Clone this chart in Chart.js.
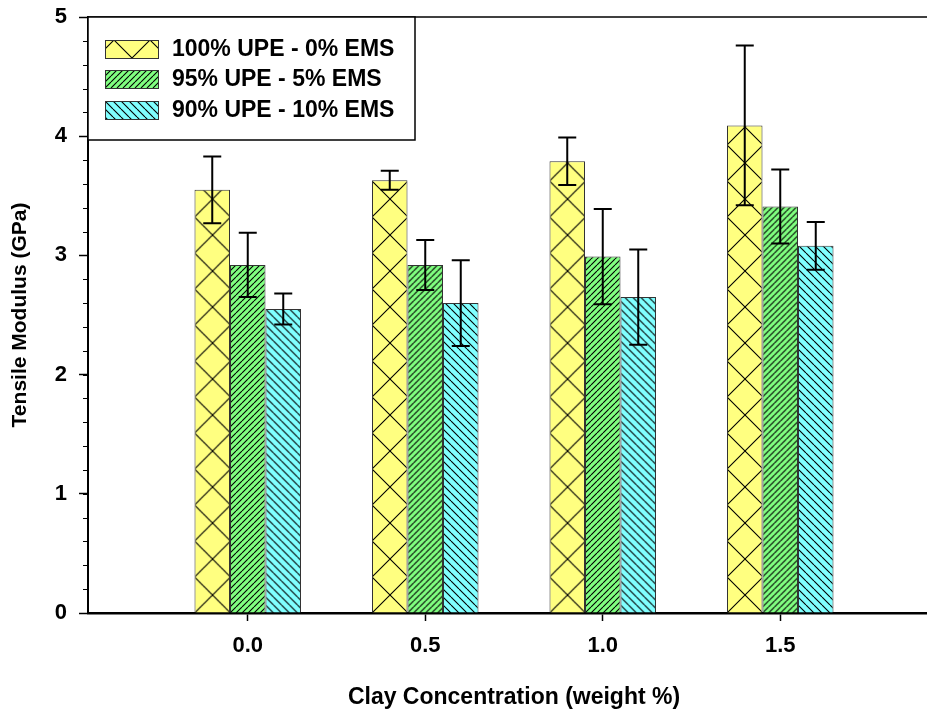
<!DOCTYPE html>
<html>
<head>
<meta charset="utf-8">
<script src="https://cdn.jsdelivr.net/npm/chart.js@4.4.0/dist/chart.umd.min.js"></script>
<style>
html, body { margin:0; padding:0; background:#fff; overflow:hidden; }
#wrap { position:relative; width:960px; height:711px; }
</style>
</head>
<body>
<div id="wrap"><canvas id="chart"></canvas></div>
<script>
// clay concentration (weight %) for each bar group
var clayConc = [0.0, 0.5, 1.0, 1.5];
var xTickValues = [0.0, 0.5, 1.0, 1.5];
var yMinorStep = 0.2;

var seriesNames = ['100% UPE - 0% EMS', '95% UPE - 5% EMS', '90% UPE - 10% EMS'];
// tensile modulus (GPa) and error (+/-)
var modUPE100 = [3.55, 3.63, 3.79, 4.09];
var modUPE95  = [2.92, 2.92, 2.99, 3.41];
var modUPE90  = [2.55, 2.60, 2.65, 3.08];
var errUPE100 = [0.28, 0.08, 0.20, 0.67];
var errUPE95  = [0.27, 0.21, 0.40, 0.31];
var errUPE90  = [0.13, 0.36, 0.40, 0.20];

var FONT = "'Liberation Sans', Arial, sans-serif";
var groupPct = 0.6;

// hatch tile: kind is 'cross', 'fwd' (/) or 'back' (\)
function makeTile(bg, kind, w, h) {
  var c = document.createElement('canvas');
  c.width = w; c.height = h;
  var g = c.getContext('2d');
  g.fillStyle = bg;
  g.fillRect(0, 0, w, h);
  g.strokeStyle = '#000';
  g.lineWidth = 1.1;
  g.beginPath();
  for (var k = -1; k <= 1; k++) {
    if (kind == 'cross' || kind == 'fwd') { g.moveTo(k * w, h); g.lineTo(k * w + w, 0); }
    if (kind == 'cross' || kind == 'back') { g.moveTo(k * w, 0); g.lineTo(k * w + w, h); }
  }
  g.stroke();
  return c;
}

var tiles = [
  makeTile('#ffff80', 'cross', 36, 36),
  makeTile('#80ff80', 'fwd', 6, 6),
  makeTile('#80ffff', 'back', 8, 8)
];

function patternAt(ctx2d, tile, tx, ty) {
  var p = ctx2d.createPattern(tile, 'repeat');
  p.setTransform(new DOMMatrix([1, 0, 0, 1, tx, ty]));
  return p;
}

// fill for a bar, lined up with the bar's left edge
function barFill(dsIndex) {
  return function(ctx) {
    var chart = ctx.chart;
    var xs = chart.scales.x;
    if (!xs || !chart.chartArea) return '#ccc';
    var step = xs.getPixelForValue(0.5) - xs.getPixelForValue(0);
    var bw = step * groupPct / 3;
    var left = xs.getPixelForValue(clayConc[ctx.dataIndex]) + (dsIndex - 1.5) * bw;
    return patternAt(chart.ctx, tiles[dsIndex], left, chart.chartArea.bottom);
  };
}

function points(vals) {
  return vals.map(function(v, i) { return { x: clayConc[i], y: v }; });
}

var errors = [errUPE100, errUPE95, errUPE90];

var decorations = {
  id: 'decorations',
  afterDatasetsDraw: function(chart) {
    var c = chart.ctx, ys = chart.scales.y, area = chart.chartArea;
    c.save();
    // error bars
    c.strokeStyle = '#000';
    c.lineWidth = 2;
    chart.data.datasets.forEach(function(ds, di) {
      var meta = chart.getDatasetMeta(di);
      meta.data.forEach(function(el, i) {
        var v = ds.data[i].y, e = errors[di][i];
        var yt = ys.getPixelForValue(v + e), yb = ys.getPixelForValue(v - e);
        c.beginPath();
        c.moveTo(el.x, yt); c.lineTo(el.x, yb);
        c.moveTo(el.x - 9, yt); c.lineTo(el.x + 9, yt);
        c.moveTo(el.x - 9, yb); c.lineTo(el.x + 9, yb);
        c.stroke();
      });
    });
    // top frame line
    c.lineWidth = 1.5;
    c.beginPath();
    c.moveTo(area.left, area.top); c.lineTo(area.right, area.top);
    c.stroke();
    // minor ticks on y
    c.lineWidth = 1;
    c.beginPath();
    for (var v = ys.min; v <= ys.max + 1e-9; v += yMinorStep) {
      var py = Math.round(ys.getPixelForValue(v)) + 0.5;
      c.moveTo(area.left - 5, py); c.lineTo(area.left, py);
    }
    c.stroke();
    // legend box
    var lx = area.left, ly = area.top, lw = 327, lh = 123;
    c.fillStyle = '#fff';
    c.fillRect(lx, ly, lw, lh);
    c.lineWidth = 1.5;
    c.strokeRect(lx, ly, lw, lh);
    var rows = [ly + 32, ly + 62, ly + 93];
    c.font = 'bold 23px ' + FONT;
    c.textBaseline = 'middle';
    c.textAlign = 'left';
    chart.data.datasets.forEach(function(ds, di) {
      var sx = lx + 17, sy = rows[di] - 9;
      c.fillStyle = patternAt(c, tiles[di], sx + (di == 0 ? 9 : 0), sy);
      c.fillRect(sx, sy, 53, 18);
      c.lineWidth = 1;
      c.strokeStyle = '#333';
      c.strokeRect(sx + 0.5, sy + 0.5, 53, 18);
      c.fillStyle = '#000';
      c.fillText(ds.label, lx + 84, rows[di] + 1);
    });
    c.restore();
  }
};

var datasets = [modUPE100, modUPE95, modUPE90].map(function(vals, di) {
  return {
    label: seriesNames[di],
    data: points(vals),
    backgroundColor: barFill(di),
    borderColor: '#333',
    borderWidth: 1
  };
});

new Chart(document.getElementById('chart'), {
  type: 'bar',
  data: { datasets: datasets },
  options: {
    responsive: true,
    maintainAspectRatio: false,
    animation: false,
    layout: { padding: { top: 17, right: 20, left: 0, bottom: 0 } },
    datasets: { bar: { categoryPercentage: groupPct, barPercentage: 1 } },
    plugins: { legend: { display: false }, tooltip: { enabled: false } },
    scales: {
      x: {
        type: 'linear',
        min: -0.45,
        max: 1.95,
        offset: false,
        afterBuildTicks: function(s) { s.ticks = xTickValues.map(function(v) { return { value: v }; }); },
        afterFit: function(s) { s.height = 98; s.paddingLeft = 0; s.paddingRight = 0; },
        ticks: {
          callback: function(v) { return Number(v).toFixed(1); },
          color: '#000',
          font: { family: FONT, size: 22, weight: 'bold' },
          padding: 12,
          maxRotation: 0
        },
        grid: { offset: false, drawOnChartArea: false, tickLength: 8, tickColor: '#000', tickWidth: 1.5 },
        border: { color: '#000', width: 2.5 },
        title: {
          display: true,
          text: 'Clay Concentration (weight %)',
          color: '#000',
          font: { family: FONT, size: 23, weight: 'bold', lineHeight: 1.2 },
          padding: { top: 0, bottom: 0 }
        }
      },
      y: {
        min: 0,
        max: 5,
        afterFit: function(s) { s.width = 88; s.paddingTop = 0; s.paddingBottom = 0; },
        ticks: {
          stepSize: 1,
          color: '#000',
          font: { family: FONT, size: 22, weight: 'bold' },
          padding: 12
        },
        grid: { drawOnChartArea: false, tickLength: 9, tickColor: '#000', tickWidth: 1.5 },
        border: { color: '#000', width: 2 },
        title: {
          display: true,
          text: 'Tensile Modulus (GPa)',
          color: '#000',
          font: { family: FONT, size: 21, weight: 'bold', lineHeight: 1.2 },
          padding: { top: 8, bottom: 0 }
        }
      }
    }
  },
  plugins: [decorations]
});
</script>
</body>
</html>
